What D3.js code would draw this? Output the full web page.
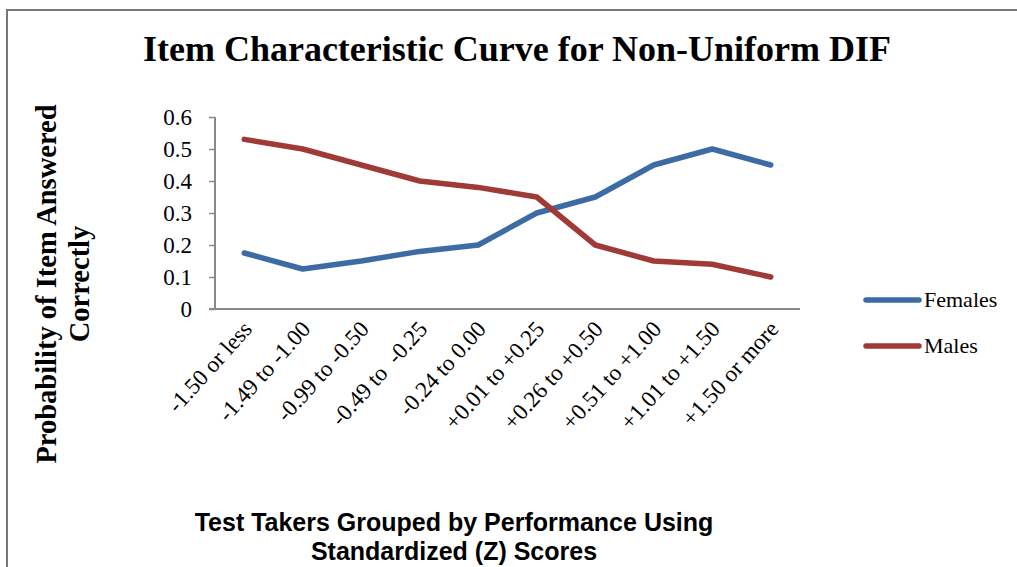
<!DOCTYPE html>
<html>
<head>
<meta charset="utf-8">
<script src="https://cdn.jsdelivr.net/npm/d3@7"></script>
<style>
  html, body { margin: 0; padding: 0; background: #fff; }
  svg { display: block; }
</style>
</head>
<body>
<svg id="chart" width="1017" height="567"></svg>
<script>
// Score groups along the x axis
const categories = [
  "-1.50 or less", "-1.49 to -1.00", "-0.99 to -0.50", "-0.49 to  -0.25",
  "-0.24 to 0.00", "+0.01 to +0.25", "+0.26 to +0.50", "+0.51 to +1.00",
  "+1.01 to +1.50", "+1.50 or more"
];
// Probability of a correct answer in each group
const females = [0.175, 0.125, 0.15, 0.18, 0.2, 0.3, 0.35, 0.45, 0.5, 0.45];
const males   = [0.53, 0.5, 0.45, 0.4, 0.38, 0.35, 0.2, 0.15, 0.14, 0.1];
const seriesNames = ["Females", "Males"];
const yTicks = [0, 0.1, 0.2, 0.3, 0.4, 0.5, 0.6];

const colors = { Females: "#3d6ba3", Males: "#a03a37" };
const serif = "'Liberation Serif', 'DejaVu Serif', serif";
const sans = "'Liberation Sans', Arial, sans-serif";

const svg = d3.select("#chart");

// outer frame (left and top edges)
svg.append("path")
  .attr("d", "M7,567 V10 H1017")
  .attr("fill", "none")
  .attr("stroke", "#767676")
  .attr("stroke-width", 2);

const plot = { left: 215, right: 800, top: 117, bottom: 309 };

const x = d3.scaleBand()
  .domain(categories)
  .range([plot.left, plot.right]);

const y = d3.scaleLinear()
  .domain([0, 0.6])
  .range([plot.bottom, plot.top]);

// title
svg.append("text")
  .attr("x", 517)
  .attr("y", 61)
  .attr("text-anchor", "middle")
  .attr("font-family", serif)
  .attr("font-weight", "bold")
  .attr("font-size", 36)
  .attr("fill", "#000")
  .text("Item Characteristic Curve for Non-Uniform DIF");

// y axis
const yAxis = svg.append("g")
  .attr("transform", `translate(${plot.left},0)`)
  .call(d3.axisLeft(y).tickValues(yTicks).tickSize(6).tickPadding(17)
    .tickFormat(d => d === 0 ? "0" : d3.format(".1f")(d)));
yAxis.select(".domain").attr("stroke", "#888").attr("stroke-width", 2)
  .attr("d", `M0,${plot.top}V${plot.bottom}`);
yAxis.selectAll(".tick line").attr("stroke", "#888").attr("stroke-width", 1.5);
yAxis.selectAll(".tick text")
  .attr("font-family", serif)
  .attr("font-size", 23)
  .attr("fill", "#000");

// x axis
const xAxis = svg.append("g")
  .attr("transform", `translate(0,${plot.bottom})`)
  .call(d3.axisBottom(x).tickSize(0).tickPadding(0));
xAxis.select(".domain").attr("stroke", "#888").attr("stroke-width", 2)
  .attr("d", `M${plot.left - 6},0H${plot.right}`);
xAxis.selectAll(".tick text")
  .attr("font-family", serif)
  .attr("font-size", 23)
  .attr("fill", "#000")
  .attr("text-anchor", "end")
  .attr("dy", 0)
  .attr("transform", "translate(9,21) rotate(-48)")
  .style("white-space", "pre")
  .attr("xml:space", "preserve");

// y axis title
const yTitle = svg.append("text")
  .attr("transform", "translate(56,284) rotate(-90)")
  .attr("text-anchor", "middle")
  .attr("font-family", serif)
  .attr("font-weight", "bold")
  .attr("font-size", 28.5)
  .attr("fill", "#000");
yTitle.append("tspan").attr("x", 0).attr("dy", 0).text("Probability of Item Answered");
yTitle.append("tspan").attr("x", 0).attr("dy", 33).text("Correctly");

// x axis title
const xTitle = svg.append("text")
  .attr("text-anchor", "middle")
  .attr("font-family", sans)
  .attr("font-weight", "bold")
  .attr("font-size", 25)
  .attr("fill", "#000");
xTitle.append("tspan").attr("x", 454).attr("y", 531).text("Test Takers Grouped by Performance Using");
xTitle.append("tspan").attr("x", 454).attr("y", 560).text("Standardized (Z) Scores");

// series lines
const line = d3.line()
  .x((d, i) => x(categories[i]) + x.bandwidth() / 2)
  .y(d => y(d));

const seriesData = [
  { name: seriesNames[0], values: females },
  { name: seriesNames[1], values: males }
];

svg.append("g").selectAll("path")
  .data(seriesData)
  .join("path")
  .attr("d", d => line(d.values))
  .attr("fill", "none")
  .attr("stroke", d => colors[d.name])
  .attr("stroke-width", 5.5)
  .attr("stroke-linejoin", "round")
  .attr("stroke-linecap", "round");

// legend
const legend = svg.append("g").selectAll("g")
  .data(seriesNames)
  .join("g")
  .attr("transform", (d, i) => `translate(866,${300 + i * 46})`);
legend.append("line")
  .attr("x1", 0).attr("x2", 53)
  .attr("stroke", d => colors[d])
  .attr("stroke-width", 5.5)
  .attr("stroke-linecap", "round");
legend.append("text")
  .attr("x", 58)
  .attr("y", 7)
  .attr("font-family", serif)
  .attr("font-size", 22)
  .attr("fill", "#000")
  .text(d => d);
</script>
</body>
</html>
